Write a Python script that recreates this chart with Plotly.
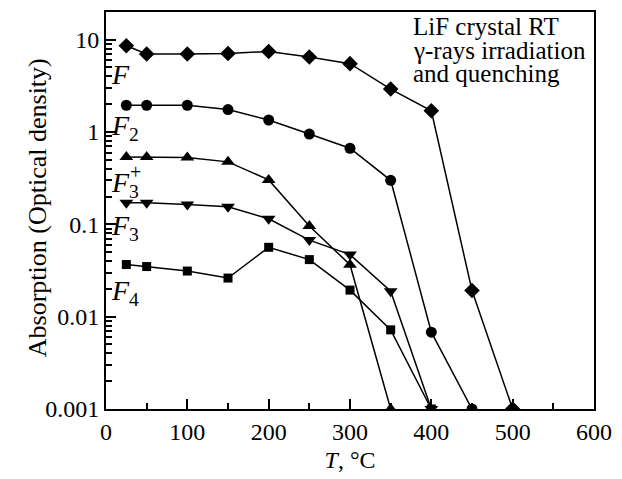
import plotly.graph_objects as go

T = [25, 50, 100, 150, 200, 250, 300, 350, 400, 450, 500]
F_vals = [8.6, 7.0, 7.0, 7.1, 7.45, 6.5, 5.5, 2.92, 1.70, 0.0192, 0.001]
T2 = [25, 50, 100, 150, 200, 250, 300, 350, 400, 450]
F2_vals = [1.95, 1.95, 1.95, 1.75, 1.35, 0.95, 0.667, 0.30, 0.0068, 0.001]
T3p = [25, 50, 100, 150, 200, 250, 300, 350]
F3p_vals = [0.537, 0.537, 0.53, 0.475, 0.303, 0.096, 0.0365, 0.001]
T3 = [25, 50, 100, 150, 200, 250, 300, 350, 400]
F3_vals = [0.171, 0.171, 0.164, 0.155, 0.115, 0.0675, 0.047, 0.0189, 0.001]
T4 = [25, 50, 100, 150, 200, 250, 300, 350, 400]
F4_vals = [0.0367, 0.0349, 0.0312, 0.0262, 0.0564, 0.0415, 0.0194, 0.0072, 0.001]

x_ticks = [0, 100, 200, 300, 400, 500, 600]
y_ticks = [0.001, 0.01, 0.1, 1, 10]
y_tick_text = ["0.001", "0.01", "0.1", "1", "10"]

legend_lines = ["LiF crystal RT", "γ-rays irradiation", "and quenching"]

FONT = "Liberation Serif"

series = [
    (T, F_vals, "diamond", 12),
    (T2, F2_vals, "circle", 11),
    (T3p, F3p_vals, "triangle-up", 12),
    (T3, F3_vals, "triangle-down", 12),
    (T4, F4_vals, "square", 9),
]

fig = go.Figure()
for xs, ys, sym, sz in series:
    fig.add_trace(go.Scatter(
        x=xs, y=ys, mode="lines+markers",
        line=dict(color="black", width=1.5),
        marker=dict(symbol=sym, size=sz, color="black"),
        showlegend=False, hoverinfo="skip",
    ))

minor_y = [m * 10 ** e for e in range(-3, 2) for m in range(2, 10) if m * 10 ** e < 20]

fig.update_layout(
    width=622, height=479,
    margin=dict(l=106, r=16, t=10, b=67),
    paper_bgcolor="white", plot_bgcolor="white",
    font=dict(family=FONT, size=24, color="black"),
    xaxis=dict(
        range=[0, 600], tickvals=x_ticks, ticks="inside", ticklen=10, tickwidth=1.5,
        tickcolor="black", showline=True, linewidth=2, linecolor="black", mirror=True,
        showgrid=False, zeroline=False, ticklabeloverflow="allow",
        minor=dict(tickvals=[50, 150, 250, 350, 450, 550], ticks="inside", ticklen=6,
                   tickwidth=1.5, tickcolor="black", showgrid=False),
        title=dict(text="<i>T</i>, °C", standoff=7, font=dict(family=FONT, size=24)),
        tickfont=dict(family=FONT, size=24),
    ),
    yaxis=dict(
        type="log", range=[-3, 1.3], tickvals=y_ticks, ticktext=y_tick_text,
        ticks="inside", ticklen=10, tickwidth=1.5, tickcolor="black",
        showline=True, linewidth=2, linecolor="black", mirror=True,
        showgrid=False, zeroline=False, ticklabeloverflow="allow",
        minor=dict(tickvals=minor_y, ticks="inside", ticklen=6, tickwidth=1.5,
                   tickcolor="black", showgrid=False),
        tickfont=dict(family=FONT, size=24),
    ),
)

# y-axis title placed as a rotated annotation
fig.add_annotation(
    xref="paper", yref="paper", x=(36 - 106) / 500, y=(412 - 208) / 402,
    xanchor="center", yanchor="middle", textangle=-90, showarrow=False,
    text="Absorption (Optical density)", font=dict(family=FONT, size=26, color="black"),
)

labels = [
    ("<i>F</i>", 73),
    ("<i>F</i><sub>2</sub>", 127),
    ("<i>F</i><sub>3</sub>", 185),
    ("<i>F</i><sub>3</sub>", 228),
    ("<i>F</i><sub>4</sub>", 294),
]
for txt, py in labels:
    fig.add_annotation(
        xref="paper", yref="paper", x=(109 - 106) / 500, y=(412 - py) / 402,
        xanchor="left", yanchor="middle", text=txt, showarrow=False,
        font=dict(family=FONT, size=28, color="black"),
    )
# superscript + for F3+
fig.add_annotation(
    xref="paper", yref="paper", x=(129 - 106) / 500, y=(412 - 172) / 402,
    xanchor="left", yanchor="middle", text="+", showarrow=False,
    font=dict(family=FONT, size=20, color="black"),
)

for i, line in enumerate(legend_lines):
    fig.add_annotation(
        xref="paper", yref="paper", x=(419 - 106) / 500,
        y=(412 - (25 + 23.5 * i)) / 402,
        xanchor="left", yanchor="middle", align="left", showarrow=False,
        text=line, font=dict(family=FONT, size=25, color="black"),
    )

fig.write_html("out.html", post_script="document.body.style.margin='0';",
               config={"displayModeBar": False})
